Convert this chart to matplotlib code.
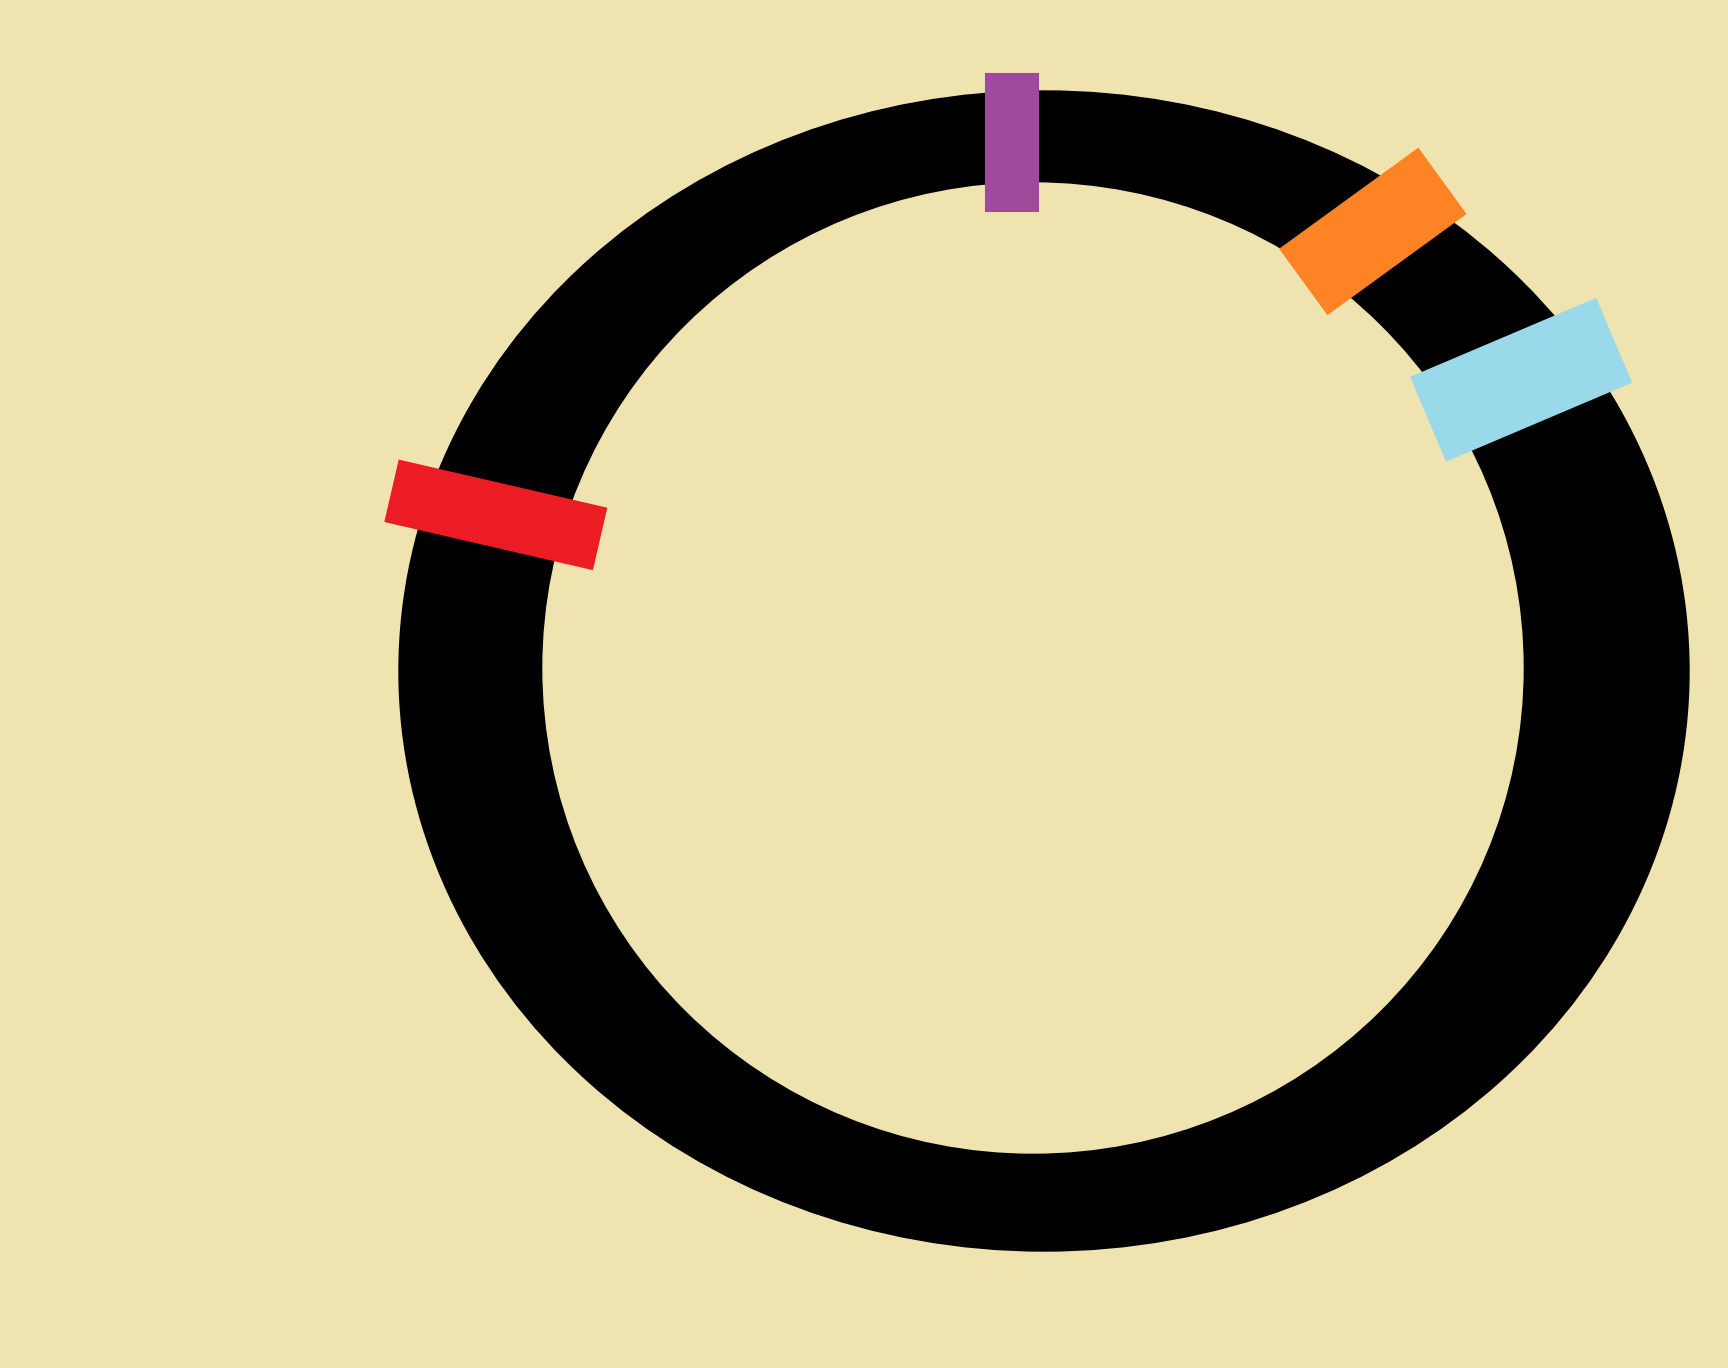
import numpy as np
import matplotlib
matplotlib.use('Agg')
import matplotlib.pyplot as plt
from matplotlib.patches import Ellipse, Polygon

# 背景和环的颜色
bg_color = '#efe3b0'
ring_color = '#000000'

# 环 (像素坐标)
ring_center = (1044, 671)
ring_outer = (1290, 1160)
hole_center = (1033, 668)
hole_size = (980, 970)

# 特征块: 位置角 (从正上方顺时针, 度), 半径, 长轴方向, 长度, 宽度, 颜色
feat_angle = [-3.5, 36.8, 58.6, -74.1]
feat_radius = [529, 549, 559, 570]
feat_axis = [0, 54, 67, -77]
feat_length = [137, 170, 200, 212]
feat_width = [52, 80, 90, 62]
feat_color = ['#a04a9e', '#fe8325', '#9ad9ea', '#ec1c24']

fig = plt.figure(figsize=(17.28, 13.68), dpi=100)
fig.patch.set_facecolor(bg_color)
ax = fig.add_axes([0, 0, 1, 1])
ax.set_facecolor(bg_color)
ax.set_xlim(0, 1728)
ax.set_ylim(1368, 0)
ax.axis('off')

# 画环
ax.add_patch(Ellipse(ring_center, ring_outer[0], ring_outer[1], color=ring_color, zorder=1))
ax.add_patch(Ellipse(hole_center, hole_size[0], hole_size[1], color=bg_color, zorder=2))

# 画特征块
for a, r, ax_a, L, W, c in zip(feat_angle, feat_radius, feat_axis, feat_length, feat_width, feat_color):
    t = np.radians(a)
    cx = ring_center[0] + r * np.sin(t)
    cy = ring_center[1] - r * np.cos(t)
    u = np.array([np.sin(np.radians(ax_a)), -np.cos(np.radians(ax_a))])
    n = np.array([-u[1], u[0]])
    c0 = np.array([cx, cy])
    pts = [c0 + u * L / 2 + n * W / 2, c0 + u * L / 2 - n * W / 2,
           c0 - u * L / 2 - n * W / 2, c0 - u * L / 2 + n * W / 2]
    ax.add_patch(Polygon(pts, closed=True, facecolor=c, edgecolor=c, lw=1.5, zorder=3))

fig.savefig('out.png', dpi=100, facecolor=bg_color)
